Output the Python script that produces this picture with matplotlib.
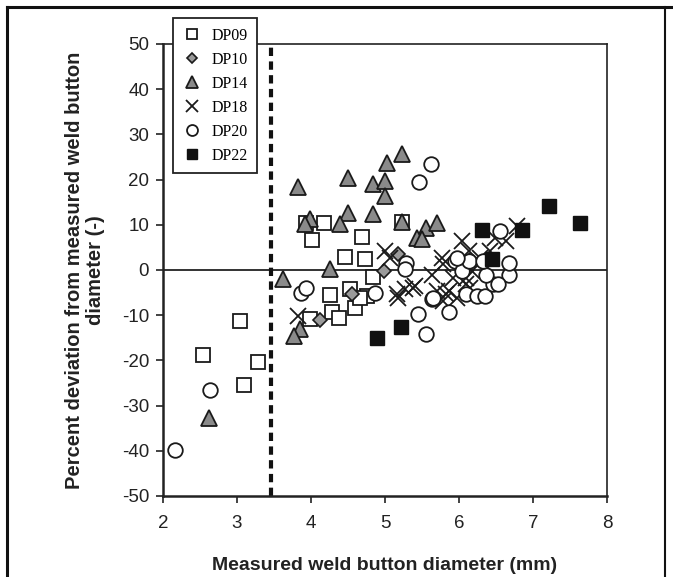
import matplotlib
matplotlib.use("Agg")
import matplotlib.pyplot as plt
from matplotlib.lines import Line2D

plt.rcParams["axes.unicode_minus"] = False

# ---- data ----
dp09_x = [3.04, 2.54, 3.28, 3.09, 4.17, 4.02, 4.69, 4.46, 4.73, 4.25, 3.99, 4.29, 4.38, 4.59, 4.84, 4.75, 4.53, 4.66, 5.23, 3.93]
dp09_y = [-11.3, -18.7, -20.4, -25.5, 10.5, 6.6, 7.3, 2.9, 2.4, -5.5, -10.9, -9.4, -10.6, -8.3, -1.5, -5.8, -4.3, -6.1, 10.7, 10.4]

dp10_x = [4.12, 4.55, 4.98, 5.18]
dp10_y = [-11.1, -5.2, -0.2, 3.6]

dp14_x = [2.62, 3.83, 3.98, 3.92, 4.50, 4.50, 4.39, 4.84, 4.84, 5.00, 5.00, 3.62, 4.25, 3.85, 3.77, 5.03, 5.23, 5.23, 5.55, 5.70, 5.43, 5.50]
dp14_y = [-32.7, 18.4, 11.2, 10.2, 20.3, 12.7, 10.1, 12.3, 19.1, 19.7, 16.4, -2.1, 0.2, -13.1, -14.6, 23.7, 25.7, 10.7, 9.4, 10.5, 7.0, 6.8]

dp18_x = [3.83, 5.00, 5.07, 5.16, 5.27, 5.41, 5.63, 5.70, 5.79, 5.92, 5.83, 5.97, 6.04, 6.10, 6.17, 5.18, 5.38,
          5.77, 6.04, 6.13, 5.86, 5.79, 6.10, 6.28, 6.64, 6.78, 6.49, 6.42, 6.15]
dp18_y = [-10.2, 4.2, 2.7, -5.4, -4.3, -3.5, -1.0, -4.6, 1.3, -1.7, -5.4, -6.1, 2.0, -3.2, -0.2, -6.1, -3.9,
          2.7, 6.4, 4.2, -4.6, -6.9, -1.7, 2.7, 6.4, 9.7, 7.1, 4.2, -3.9]

dp20_x = [2.16, 2.64, 3.87, 3.93, 5.62, 5.46, 5.29, 5.27, 4.86, 5.45, 5.56, 5.63, 5.86, 5.95, 6.04, 6.10,
          5.65, 6.24, 6.35, 6.46, 6.67, 6.67, 6.55, 6.13, 6.37, 6.33, 6.53, 5.97]
dp20_y = [-39.9, -26.6, -5.0, -4.0, 23.4, 19.5, 1.6, 0.2, -5.0, -9.8, -14.2, -6.5, -9.4, 2.0, -0.2, -5.4,
          -6.1, -5.8, -5.8, -3.2, -1.0, 1.6, 8.6, 2.0, -1.0, 2.0, -3.2, 2.7]

dp22_x = [4.89, 5.21, 7.21, 7.64, 6.85, 6.31, 6.44]
dp22_y = [-15.0, -12.6, 14.2, 10.5, 8.8, 8.8, 2.4]

x_ticks = [2, 3, 4, 5, 6, 7, 8]
y_ticks = [-50, -40, -30, -20, -10, 0, 10, 20, 30, 40, 50]
threshold_x = 3.46

W, H = 673, 577
fig = plt.figure(figsize=(W / 100, H / 100), dpi=100)
fig.patch.set_facecolor("white")
ax = fig.add_axes([163 / W, 1 - 496 / H, (607 - 163) / W, (496 - 44) / H])

edge = "#1a1a1a"
ms = 10.5
ax.plot(dp09_x, dp09_y, "s", ls="none", mfc="white", mec=edge, mew=1.3, ms=ms, label="DP09", zorder=3)
ax.plot(dp10_x, dp10_y, "D", ls="none", mfc="#9a9a9a", mec=edge, mew=1.2, ms=7, label="DP10", zorder=3)
ax.plot(dp14_x, dp14_y, "^", ls="none", mfc="#8a8a8a", mec=edge, mew=1.3, ms=11.5, label="DP14", zorder=3)
ax.plot(dp18_x, dp18_y, "x", ls="none", mec=edge, mew=1.3, ms=11, label="DP18", zorder=3)
ax.plot(dp20_x, dp20_y, "o", ls="none", mfc="white", mec=edge, mew=1.3, ms=ms, label="DP20", zorder=3)
ax.plot(dp22_x, dp22_y, "s", ls="none", mfc="#111111", mec="#111111", mew=1.0, ms=ms, label="DP22", zorder=3)

ax.axhline(0, color="#222222", lw=1.3, zorder=2)
ax.axvline(threshold_x, color="#111111", lw=3, ls=(0, (2.0, 1.3)), zorder=2)

ax.set_xlim(2, 8)
ax.set_ylim(-50, 50)
ax.set_xticks(x_ticks)
ax.set_yticks(y_ticks)
ax.tick_params(direction="out", length=5, width=1.2, labelsize=13.5, colors="#222222")
ax.tick_params(axis="x", pad=9)
ax.tick_params(axis="y", pad=5)
for t in ax.get_xticklabels() + ax.get_yticklabels():
    t.set_fontfamily("Liberation Sans")
for s in ["left", "bottom"]:
    ax.spines[s].set_linewidth(1.8)
for s in ["top", "right"]:
    ax.spines[s].set_linewidth(1.2)
for s in ax.spines.values():
    s.set_color("#222222")

ax.set_xlabel("Measured weld button diameter (mm)", fontsize=14, fontweight="bold",
              family="Liberation Sans", labelpad=18, color="#222222")
ax.set_ylabel("Percent deviation from measured weld button\ndiameter (-)", fontsize=14.5,
              fontweight="bold", family="Liberation Sans", labelpad=12, color="#222222",
              linespacing=1.15)

leg = ax.legend(loc="upper left", bbox_to_anchor=(173 / W, 1 - 18 / H), bbox_transform=fig.transFigure,
                borderaxespad=0, fancybox=False, framealpha=1, edgecolor="#222222", markerscale=0.75,
                prop={"family": "Liberation Serif", "size": 11.5}, handlelength=1.2, handletextpad=0.6,
                labelspacing=0.5, borderpad=0.6)
leg.get_frame().set_linewidth(1.3)

# figure border lines
fig.add_artist(Line2D([7 / W, 1], [1 - 7 / H, 1 - 7 / H], transform=fig.transFigure, color="#111111", lw=2.2))
fig.add_artist(Line2D([7 / W, 7 / W], [0, 1 - 7 / H], transform=fig.transFigure, color="#111111", lw=2.2))
fig.add_artist(Line2D([665 / W, 665 / W], [0, 1 - 7 / H], transform=fig.transFigure, color="#111111", lw=1.5))

fig.savefig("out.png", dpi=100)
